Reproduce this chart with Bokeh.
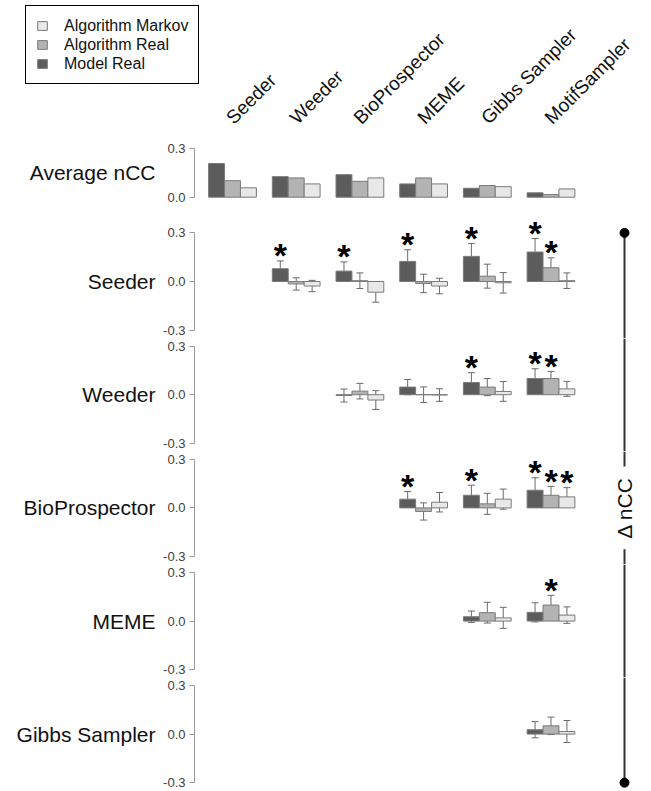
import math
from bokeh.plotting import figure
from bokeh.layouts import column
from bokeh.models import (ColumnDataSource, Range1d, FixedTicker, PrintfTickFormatter,
                          Whisker, TeeHead, Label, Legend, LegendItem)
from bokeh.core.properties import value
from bokeh.embed import file_html
from bokeh.resources import INLINE

# ---------------- data ----------------
methods = ["Seeder", "Weeder", "BioProspector", "MEME", "Gibbs Sampler", "MotifSampler"]
series_labels = ["Model Real", "Algorithm Real", "Algorithm Markov"]

# Average nCC (top row)
avg_model = [0.208, 0.127, 0.139, 0.082, 0.055, 0.027]
avg_real = [0.102, 0.119, 0.098, 0.119, 0.072, 0.016]
avg_markov = [0.058, 0.082, 0.119, 0.082, 0.065, 0.051]

# Delta nCC rows (row algorithm compared with each later column)
row_names = ["Seeder", "Weeder", "BioProspector", "MEME", "Gibbs Sampler"]

seeder_cols = ["Weeder", "BioProspector", "MEME", "Gibbs Sampler", "MotifSampler"]
seeder_model = [0.079, 0.064, 0.124, 0.155, 0.182]
seeder_model_se = [0.048, 0.057, 0.072, 0.080, 0.083]
seeder_real = [-0.015, 0.005, -0.012, 0.033, 0.085]
seeder_real_se = [0.038, 0.048, 0.057, 0.074, 0.061]
seeder_markov = [-0.028, -0.066, -0.028, -0.008, 0.005]
seeder_markov_se = [0.035, 0.062, 0.048, 0.063, 0.048]
seeder_sig_model = [1, 1, 1, 1, 1]
seeder_sig_real = [0, 0, 0, 0, 1]
seeder_sig_markov = [0, 0, 0, 0, 0]

weeder_cols = ["BioProspector", "MEME", "Gibbs Sampler", "MotifSampler"]
weeder_model = [-0.005, 0.047, 0.075, 0.100]
weeder_model_se = [0.040, 0.047, 0.061, 0.060]
weeder_real = [0.022, 0.000, 0.047, 0.100]
weeder_real_se = [0.048, 0.048, 0.053, 0.044]
weeder_markov = [-0.033, -0.002, 0.020, 0.036]
weeder_markov_se = [0.058, 0.039, 0.061, 0.046]
weeder_sig_model = [0, 0, 1, 1]
weeder_sig_real = [0, 0, 0, 1]
weeder_sig_markov = [0, 0, 0, 0]

bioprospector_cols = ["MEME", "Gibbs Sampler", "MotifSampler"]
bioprospector_model = [0.054, 0.078, 0.109]
bioprospector_model_se = [0.047, 0.062, 0.077]
bioprospector_real = [-0.022, 0.025, 0.078]
bioprospector_real_se = [0.053, 0.065, 0.055]
bioprospector_markov = [0.035, 0.054, 0.068]
bioprospector_markov_se = [0.060, 0.062, 0.057]
bioprospector_sig_model = [1, 1, 1]
bioprospector_sig_real = [0, 0, 1]
bioprospector_sig_markov = [0, 0, 1]

meme_cols = ["Gibbs Sampler", "MotifSampler"]
meme_model = [0.027, 0.054]
meme_model_se = [0.035, 0.059]
meme_real = [0.052, 0.099]
meme_real_se = [0.064, 0.060]
meme_markov = [0.020, 0.037]
meme_markov_se = [0.065, 0.051]
meme_sig_model = [0, 0]
meme_sig_real = [0, 1]
meme_sig_markov = [0, 0]

gibbs_cols = ["MotifSampler"]
gibbs_model = [0.027]
gibbs_model_se = [0.050]
gibbs_real = [0.051]
gibbs_real_se = [0.054]
gibbs_markov = [0.016]
gibbs_markov_se = [0.068]
gibbs_sig_model = [0]
gibbs_sig_real = [0]
gibbs_sig_markov = [0]

rows = [
    (seeder_cols, [(seeder_model, seeder_model_se, seeder_sig_model),
                   (seeder_real, seeder_real_se, seeder_sig_real),
                   (seeder_markov, seeder_markov_se, seeder_sig_markov)]),
    (weeder_cols, [(weeder_model, weeder_model_se, weeder_sig_model),
                   (weeder_real, weeder_real_se, weeder_sig_real),
                   (weeder_markov, weeder_markov_se, weeder_sig_markov)]),
    (bioprospector_cols, [(bioprospector_model, bioprospector_model_se, bioprospector_sig_model),
                          (bioprospector_real, bioprospector_real_se, bioprospector_sig_real),
                          (bioprospector_markov, bioprospector_markov_se, bioprospector_sig_markov)]),
    (meme_cols, [(meme_model, meme_model_se, meme_sig_model),
                 (meme_real, meme_real_se, meme_sig_real),
                 (meme_markov, meme_markov_se, meme_sig_markov)]),
    (gibbs_cols, [(gibbs_model, gibbs_model_se, gibbs_sig_model),
                  (gibbs_real, gibbs_real_se, gibbs_sig_real),
                  (gibbs_markov, gibbs_markov_se, gibbs_sig_markov)]),
]

# ---------------- style / layout ----------------
FONT = "Liberation Sans"
FILLS = ["#5c5c5c", "#b3b3b3", "#e8e8e8"]
OUTLINE = "#7a7a7a"
OFFSETS = [-0.25, 0.0, 0.25]
BAR_W = 0.25
AX_LIM = 0.3
W = 645
SX = 63.7            # px per group
X0_PX = 232          # pixel position of first group centre
XLO, XHI = -X0_PX / SX, (W - X0_PX) / SX
XAXIS = (194 - X0_PX) / SX
XLINE = (624 - X0_PX) / SX
K = 162.0            # px per nCC unit
bounds_px = [0, 206, 338, 451, 564, 677, 790]
zeros_px = [196.7, 281.0, 394.2, 507.4, 620.6, 733.6]


def make_fig(i, axis_lo, ticks):
    top, bottom, zero = bounds_px[i], bounds_px[i + 1], zeros_px[i]
    y_lo = -(bottom - zero) / K
    y_hi = (zero - top) / K
    p = figure(width=W, height=bottom - top, x_range=Range1d(XLO, XHI),
               y_range=Range1d(y_lo, y_hi), output_backend="svg",
               toolbar_location=None, x_axis_location=None,
               min_border=0)
    p.outline_line_color = None
    p.grid.visible = False
    ax = p.yaxis[0]
    ax.fixed_location = XAXIS
    ax.bounds = (axis_lo, AX_LIM)
    ax.ticker = FixedTicker(ticks=ticks)
    ax.formatter = PrintfTickFormatter(format="%.1f")
    ax.axis_line_color = "#9a9a9a"
    ax.major_tick_line_color = "#9a9a9a"
    ax.major_tick_in = 0
    ax.major_tick_out = 5
    ax.minor_tick_line_color = None
    ax.major_label_text_font = FONT
    ax.major_label_text_font_size = "13px"
    ax.major_label_text_color = "#404040"
    ax.major_label_standoff = 4
    return p, y_lo, y_hi


figs = []

# ---- top figure: legend, column headers, average nCC ----
p0, _, _ = make_fig(0, 0.0, [0.0, AX_LIM])
avg_vals = [avg_model, avg_real, avg_markov]
rends = []
for s in range(3):
    src = ColumnDataSource(dict(x=[j + OFFSETS[s] for j in range(len(methods))], top=avg_vals[s]))
    r = p0.vbar(x="x", top="top", bottom=0, width=BAR_W, source=src,
                fill_color=FILLS[s], line_color=OUTLINE, line_width=1)
    rends.append(r)

for j, m in enumerate(methods):
    p0.add_layout(Label(x=j, y=AX_LIM, x_offset=-3, y_offset=28, text=m,
                        angle=math.pi / 4, text_align="left", text_baseline="alphabetic",
                        text_font=FONT, text_font_size="19px", text_color="#111111"))

p0.add_layout(Label(x=XAXIS, y=AX_LIM / 2, x_offset=-39, text="Average nCC",
                    text_align="right", text_baseline="middle",
                    text_font=FONT, text_font_size="21px", text_color="#111111"))

legend = Legend(items=[LegendItem(label=series_labels[s], renderers=[rends[s]]) for s in (2, 1, 0)],
                location=(25, bounds_px[1] - 84), orientation="vertical",
                border_line_color="black", border_line_width=1, border_line_alpha=1,
                background_fill_color="white", background_fill_alpha=1,
                label_text_font=FONT, label_text_font_size="16px", label_text_color="#111111",
                glyph_width=12, glyph_height=11, label_standoff=16, label_height=19,
                spacing=0, padding=10, margin=0)
p0.add_layout(legend)
figs.append(p0)

# ---- delta nCC rows ----
for i, (cols, ser) in enumerate(rows):
    p, y_lo, y_hi = make_fig(i + 1, -AX_LIM, [-AX_LIM, 0.0, AX_LIM])
    xs_idx = [methods.index(c) for c in cols]
    star_x, star_y = [], []
    for s, (vals, se, sig) in enumerate(ser):
        xs = [j + OFFSETS[s] for j in xs_idx]
        src = ColumnDataSource(dict(x=xs, top=vals,
                                    lower=[v - e for v, e in zip(vals, se)],
                                    upper=[v + e for v, e in zip(vals, se)]))
        p.vbar(x="x", top="top", bottom=0, width=BAR_W, source=src,
               fill_color=FILLS[s], line_color=OUTLINE, line_width=1)
        p.add_layout(Whisker(base="x", lower="lower", upper="upper", source=src,
                             line_color="#6a6a6a", line_width=1,
                             upper_head=TeeHead(size=7, line_color="#6a6a6a", line_width=1),
                             lower_head=TeeHead(size=7, line_color="#6a6a6a", line_width=1)))
        for x, v, e, g in zip(xs, vals, se, sig):
            if g:
                star_x.append(x)
                star_y.append(v + e + 0.06)
    if star_x:
        p.text(x=star_x, y=star_y, text=["*"] * len(star_x), text_align="center",
               text_baseline="middle", text_font=value(FONT), text_font_size="34px",
               text_font_style="bold", text_color="black", y_offset=4)

    # row label
    p.add_layout(Label(x=XAXIS, y=0, x_offset=-39, text=row_names[i],
                       text_align="right", text_baseline="middle",
                       text_font=FONT, text_font_size="21px", text_color="#111111"))

    # right-hand delta nCC bracket
    seg_y0, seg_y1 = [], []
    top_end = AX_LIM if i == 0 else y_hi
    bot_end = -AX_LIM if i == len(rows) - 1 else y_lo
    if i == 2:
        seg_y0 += [top_end, -0.255]
        seg_y1 += [0.255, bot_end]
        p.add_layout(Label(x=XLINE, y=0, text="\u0394 nCC", angle=math.pi / 2,
                           text_align="center", text_baseline="middle",
                           text_font=FONT, text_font_size="21px", text_color="#111111"))
    else:
        seg_y0.append(top_end)
        seg_y1.append(bot_end)
    p.segment(x0=[XLINE] * len(seg_y0), x1=[XLINE] * len(seg_y0), y0=seg_y0, y1=seg_y1,
              line_color="#333333", line_width=2)
    if i == 0:
        p.scatter(x=[XLINE], y=[AX_LIM], size=9, color="black")
    if i == len(rows) - 1:
        p.scatter(x=[XLINE], y=[-AX_LIM], size=9, color="black")
    figs.append(p)

layout = column(*figs, spacing=0)
open("out.html", "w").write(file_html(layout, INLINE))
